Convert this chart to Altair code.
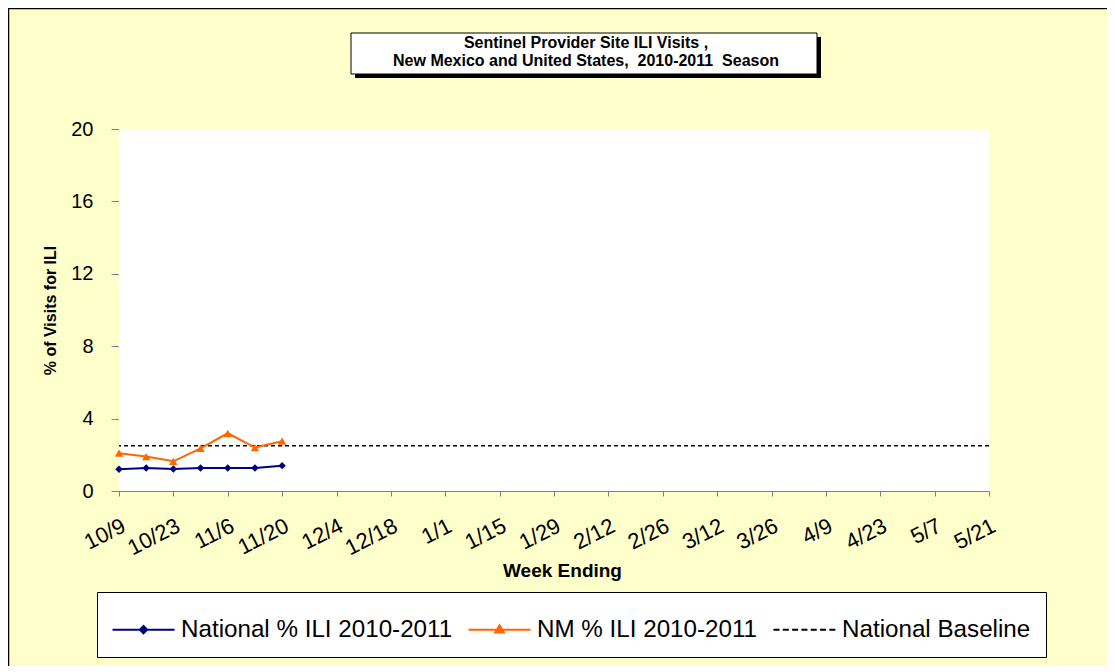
import altair as alt
import pandas as pd

# ---------------- data ----------------
week_labels = ["10/9", "10/16", "10/23", "10/30", "11/6", "11/13", "11/20"]
national_ili = [1.20, 1.27, 1.22, 1.27, 1.27, 1.27, 1.40]
nm_ili = [2.09, 1.90, 1.64, 2.36, 3.19, 2.40, 2.75]
national_baseline = [2.5]
axis_tick_labels = ["10/9", "10/23", "11/6", "11/20", "12/4", "12/18", "1/1", "1/15",
                    "1/29", "2/12", "2/26", "3/12", "3/26", "4/9", "4/23", "5/7", "5/21"]
y_ticks = [0, 4, 8, 12, 16, 20]
series_names = ["National % ILI 2010-2011", "NM % ILI 2010-2011", "National Baseline"]
title_lines = ["Sentinel Provider Site ILI Visits ,",
               "New Mexico and United States,\u00a0 2010-2011\u00a0 Season"]

FONT = "Liberation Sans"
NAVY = "#000080"
ORANGE = "#FF6600"
AXIS_GRAY = "#808080"
W, H = 870, 362

n_weeks_axis = 2 * (len(axis_tick_labels) - 1)
tick_positions = list(range(0, n_weeks_axis + 1, 2))

df_nat = pd.DataFrame({"week": list(range(len(week_labels))), "label": week_labels,
                       "value": national_ili, "series": series_names[0]})
df_nm = pd.DataFrame({"week": list(range(len(week_labels))), "label": week_labels,
                      "value": nm_ili, "series": series_names[1]})
df_base = pd.DataFrame({"value": national_baseline})
df_leg = pd.DataFrame({"series": series_names})
one_row = alt.InlineData(values=[{"k": 1}])

label_expr = "[" + ",".join("'%s'" % t for t in axis_tick_labels) + "][round(datum.value/2)]"

x_enc = alt.X(
    "week:Q",
    scale=alt.Scale(domain=[0, n_weeks_axis], nice=False, zero=False),
    axis=alt.Axis(
        values=tick_positions, labelExpr=label_expr, labelAngle=333,
        labelAlign="right", labelBaseline="top", labelPadding=19,
        labelFont=FONT, labelFontSize=22, labelColor="black",
        labelOverlap=False, labelFlush=False,
        tickSize=5, tickColor=AXIS_GRAY, domainColor=AXIS_GRAY, grid=False,
        title="Week Ending", titleFont=FONT, titleFontSize=19, titleFontWeight="bold",
        titleColor="black", titleX=443, titleY=85, titleAlign="center",
        titleBaseline="alphabetic",
    ),
)
y_enc = alt.Y(
    "value:Q",
    scale=alt.Scale(domain=[0, 20], nice=False),
    axis=alt.Axis(
        values=y_ticks, labelFont=FONT, labelFontSize=20, labelColor="black",
        labelPadding=18, tickSize=8, tickColor=AXIS_GRAY, domainColor=AXIS_GRAY,
        grid=False, title="% of Visits for ILI", titleFont=FONT, titleFontSize=16,
        titleFontWeight="bold", titleColor="black", titleAngle=270,
        titleX=-69, titleY=181, titleAlign="center", titleBaseline="middle",
    ),
)

# ---------------- decoration ----------------
border = alt.Chart(one_row).mark_rect(fillOpacity=0, stroke="black", strokeWidth=1.5).encode(
    x=alt.value(-110.5), x2=alt.value(1100), y=alt.value(-120.5), y2=alt.value(700))
plot_bg = alt.Chart(one_row).mark_rect(fill="white").encode(
    x=alt.value(0), x2=alt.value(W), y=alt.value(0), y2=alt.value(H))
shadow = alt.Chart(one_row).mark_rect(fill="black").encode(
    x=alt.value(236), x2=alt.value(702), y=alt.value(-92), y2=alt.value(-51))
box = alt.Chart(one_row).mark_rect(fill="white", stroke="black", strokeWidth=1).encode(
    x=alt.value(232), x2=alt.value(698), y=alt.value(-96), y2=alt.value(-55))
t1 = alt.Chart(one_row).mark_text(text=title_lines[0], font=FONT, fontSize=16, fontWeight="bold",
                                  align="center", baseline="alphabetic", color="black").encode(
    x=alt.value(467), y=alt.value(-81))
t2 = alt.Chart(one_row).mark_text(text=title_lines[1], font=FONT, fontSize=16, fontWeight="bold",
                                  align="center", baseline="alphabetic", color="black").encode(
    x=alt.value(467), y=alt.value(-63))

# ---------------- data marks ----------------
base_rule = alt.Chart(df_base).mark_rule(color="black", strokeWidth=1.5, strokeDash=[4, 3]).encode(
    y=y_enc)
nat_line = alt.Chart(df_nat).mark_line(color=NAVY, strokeWidth=2).encode(x=x_enc, y=y_enc)
nat_pts = alt.Chart(df_nat).mark_point(filled=True, shape="diamond", size=55, color=NAVY,
                                       opacity=1).encode(x=x_enc, y=y_enc)
nm_line = alt.Chart(df_nm).mark_line(color=ORANGE, strokeWidth=2).encode(x=x_enc, y=y_enc)
nm_pts = alt.Chart(df_nm).mark_point(filled=True, shape="triangle-up", size=70, color=ORANGE,
                                     opacity=1).encode(x=x_enc, y=y_enc)

# ---------------- legend (symbols only, no drawn rows) ----------------
HW = 1.442  # half width of legend line symbol, in symbol units
dash_path = "".join("M%.3f,0H%.3f" % (-HW + i * 0.433, -HW + i * 0.433 + 0.28) for i in range(7))
sym_paths = [
    "M-%.3f,0H%.3fM0,-0.17L0.17,0L0,0.17L-0.17,0Z" % (HW, HW),
    "M-%.3f,0H%.3fM0,-0.2L0.2,0.13L-0.2,0.13Z" % (HW, HW),
    dash_path,
]
leg_colors = [NAVY, ORANGE, "black"]
legend_layer = alt.Chart(df_leg).transform_filter("false").mark_point(
    filled=True, size=1849, opacity=1, strokeWidth=2).encode(
    shape=alt.Shape("series:N", scale=alt.Scale(domain=series_names, range=sym_paths),
                    legend=alt.Legend(title=None)),
    color=alt.Color("series:N", scale=alt.Scale(domain=series_names, range=leg_colors),
                    legend=alt.Legend(title=None)),
    stroke=alt.Stroke("series:N", scale=alt.Scale(domain=series_names, range=leg_colors),
                      legend=alt.Legend(title=None)),
)

chart = alt.layer(
    border, plot_bg, shadow, box, t1, t2, base_rule, nat_line, nm_line, nat_pts, nm_pts,
    legend_layer
).properties(
    width=W, height=H,
    autosize=alt.AutoSizeParams(type="none"),
    padding={"left": 111, "top": 121, "right": 118, "bottom": 175},
    background="#FFFFCC",
).configure(
    font=FONT
).configure_view(
    fill="white", stroke="transparent"
).configure_legend(
    orient="none", legendX=-22, legendY=463, direction="horizontal",
    fillColor="white", strokeColor="black", padding=15, columnPadding=11,
    labelFont=FONT, labelFontSize=24.2, labelColor="black", labelOffset=15,
    labelLimit=500, symbolSize=1849, symbolStrokeWidth=2, symbolOffset=9,
)

chart.save("out.html", embed_options={"renderer": "svg", "actions": False})
